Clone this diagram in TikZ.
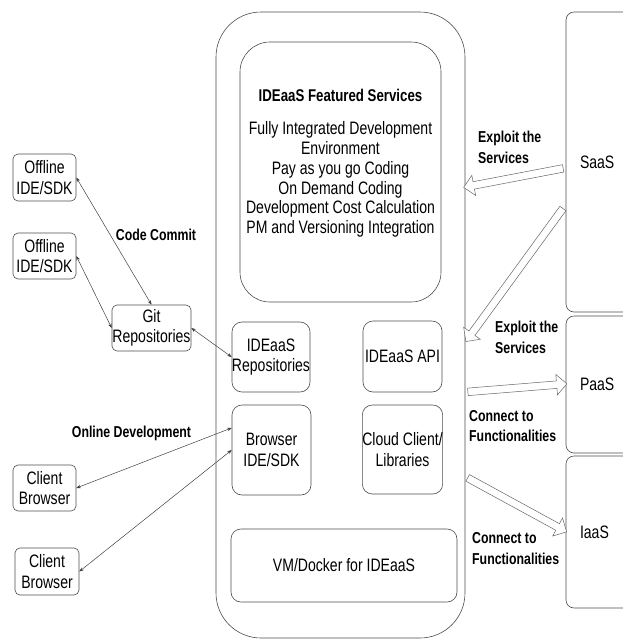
\documentclass[tikz,border=0pt]{standalone}
\usepackage{fontspec}
\setmainfont{Liberation Sans}[FakeStretch=0.78]
\usepackage{tikz}
\usetikzlibrary{arrows.meta}
\usetikzlibrary{shapes.arrows}
\usetikzlibrary{calc}

% hollow arrow between two points
\newcommand{\fatarrow}[3]{%
  \path let \p1 = (#1), \p2 = (#2),
    \n1 = {atan2(\y2-\y1, \x2-\x1)},
    \n2 = {veclen(\x2-\x1, \y2-\y1)} in
    ($(#1)!0.5!(#2)$) node[fatarrow, minimum height=\n2, rotate=\n1] (#3) {};}

\begin{document}
\begin{tikzpicture}[x=1pt, y=-1pt]
			\tikzset{box/.style={draw=black!70, line width=0.6pt, rounded corners=#1, align=center, inner sep=0pt, font=\fontsize{18}{20.5}\selectfont}, box/.default=10pt}
			\tikzset{lbl/.style={inner sep=0pt, align=left, font=\bfseries\fontsize{15.8}{20.5}\selectfont}}
			\tikzset{link/.style={draw=black!75, line width=0.5pt, {Stealth[length=4.5pt,width=3.5pt]}-{Stealth[length=4.5pt,width=3.5pt]}}}
			\tikzset{fatarrow/.style={shape=single arrow, draw=black!60, line width=0.5pt, fill=white, inner xsep=0pt, inner ysep=3.5pt, minimum width=0pt, single arrow head extend=6.5pt, single arrow head indent=0pt}}
			\clip (0,0) rectangle (623,641);
			%IDEaaS
			\node[box=45pt, minimum width=249pt, minimum height=626pt] (ide) at (340.5,325) {};
			\node[box=30pt, minimum width=201pt, minimum height=260pt] (feat) at (340.5,172) {};
			\node[align=center, inner sep=0pt, font=\fontsize{18}{19.8}\selectfont] (feattext) at (340.5,163.5) {{\bfseries\fontsize{17}{19.8}\selectfont IDEaaS Featured Services}\\[13pt]
				Fully Integrated Development\\ Environment\\ Pay as you go Coding\\ On Demand Coding\\ Development Cost Calculation\\ PM and Versioning Integration};
			\node[box, minimum width=76pt, minimum height=70pt] (repos) at (271,357) {IDEaaS\\Repositories};
			\node[box, minimum width=79pt, minimum height=71pt] (api) at (402.5,356.5) {IDEaaS API};
			\node[box, minimum width=79pt, minimum height=90pt] (browser) at (271.5,450) {Browser\\IDE/SDK};
			\node[box, minimum width=79pt, minimum height=89pt] (cloud) at (402.5,449.5) {Cloud Client/\\Libraries};
			\node[box, minimum width=226pt, minimum height=73pt] (vm) at (344,565.5) {VM/Docker for IDEaaS};
			%clouds
			\node[box=8pt, minimum width=80pt, minimum height=300pt, text width=52pt, align=left, inner xsep=14pt] (saas) at (606,162) {SaaS};
			\node[box=8pt, minimum width=80pt, minimum height=137pt, text width=52pt, align=left, inner xsep=14pt] (paas) at (606,384.5) {PaaS};
			\node[box=8pt, minimum width=80pt, minimum height=152pt, text width=52pt, align=left, inner xsep=14pt] (iaas) at (606,532) {IaaS};
			%clients
			\node[box=5pt, minimum width=63pt, minimum height=47pt] (off1) at (44.5,177.5) {Offline\\IDE/SDK};
			\node[box=5pt, minimum width=63pt, minimum height=46pt] (off2) at (44.5,256) {Offline\\IDE/SDK};
			\node[box=5pt, minimum width=79pt, minimum height=46pt] (git) at (151.5,328) {Git\\Repositories};
			\node[box=5pt, minimum width=63pt, minimum height=46pt] (cli1) at (44.5,488) {Client\\Browser};
			\node[box=5pt, minimum width=64pt, minimum height=47pt] (cli2) at (47,571.5) {Client\\Browser};
			%edges
			\draw[link] (off1.east) -- (git.north);
			\draw[link] (off2.east) -- (git.west);
			\draw[link] (git.east) -- (repos.west);
			\draw[link] (cli1.east) -- (browser.151);
			\draw[link] (cli2.east) -- (browser.west);
			%hollow arrows
			\coordinate (s1) at (565,168);
			\coordinate (t1) at (465.5,187);
			\coordinate (s2) at (564,207);
			\coordinate (t2) at (467,340);
			\coordinate (s3) at (466,392);
			\coordinate (t3) at (565,384);
			\coordinate (s4) at (466,477);
			\coordinate (t4) at (565,531);
			\fatarrow{s1}{t1}{fa1}
			\fatarrow{s2}{t2}{fa2}
			\fatarrow{s3}{t3}{fa3}
			\fatarrow{s4}{t4}{fa4}
			%labels
			\node[lbl, anchor=west] (exploit1) at (478,147.5) {Exploit the\\Services};
			\node[lbl, anchor=west] (exploit2) at (495,337.5) {Exploit the\\Services};
			\node[lbl, anchor=west] (connect1) at (469,426) {Connect to\\Functionalities};
			\node[lbl, anchor=west] (connect2) at (472,548.5) {Connect to\\Functionalities};
			\node[lbl] (commit) at (156,235) {Code Commit};
			\node[lbl] (online) at (131.5,433) {Online Development};
\end{tikzpicture}
\end{document}
